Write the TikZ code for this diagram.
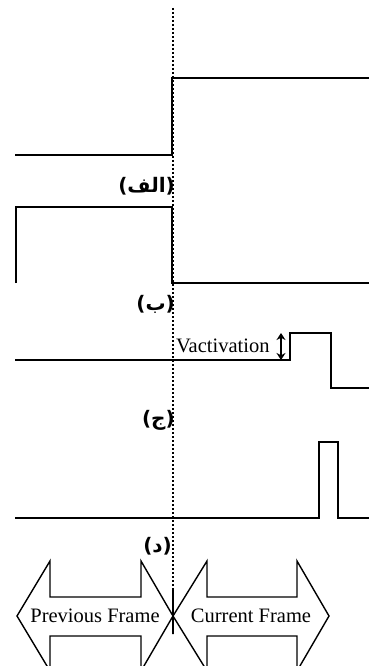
\documentclass[tikz,border=0pt]{standalone}
\usepackage{fontspec}
\setmainfont{Liberation Serif}
\newfontfamily\arabicfont[Script=Arabic]{DejaVu Sans}
\newfontfamily\parenfont{DejaVu Sans}
\TeXXeTstate=1
\usetikzlibrary{arrows.meta}
\newcommand{\arlabel}[1]{{\parenfont(}\beginR #1\endR{\parenfont)}}
\tikzset{
  signal/.style={line width=1.8pt, line join=miter},
  frameline/.style={line width=2.2pt, dash pattern=on 2.2pt off 1.8pt},
  bigarrow/.style={line width=1.4pt, line join=miter},
  caption/.style={inner sep=0pt, anchor=east, font=\arabicfont\bfseries\fontsize{20}{24}\selectfont},
  latin/.style={inner sep=0pt, font=\fontsize{20.5}{24}\selectfont}
}
\begin{document}
\begin{tikzpicture}[x=1pt,y=-1pt]
\useasboundingbox (0,0) rectangle (369,666);
\begin{scope}
\clip (0,0) rectangle (369,666);

% frame boundary
\coordinate (ftop) at (173,8);
\coordinate (fbot) at (173,634);
\draw[frameline] (ftop) -- (fbot);

% (a) step up at the frame boundary
\draw[signal] (15,155) -- (172,155) -- (172,78) -- (369,78);
\node[caption] (la) at (175,186) {\arlabel{الف}};

% (b) pulse ending at the frame boundary
\draw[signal] (16,283) -- (16,207) -- (172,207) -- (172,283) -- (369,283);
\node[caption] (lb) at (175,304) {\arlabel{ب}};

% (c) activation level then drop
\draw[signal] (15,360) -- (290,360) -- (290,333) -- (331,333) -- (331,388) -- (369,388);
\node[latin, anchor=west] (vact) at (176,346) {Vactivation};
\coordinate (vtop) at (281,333);
\coordinate (vbot) at (281,360);
\draw[line width=2pt, {Stealth[length=7pt,width=9pt]}-{Stealth[length=7pt,width=9pt]}] (vtop) -- (vbot);
\node[caption] (lc) at (175,420) {\arlabel{ج}};

% (d) narrow pulse
\draw[signal] (15,518) -- (319,518) -- (319,442) -- (338,442) -- (338,518) -- (369,518);
\node[caption] (ld) at (172,546) {\arlabel{د}};

% frame arrows
\draw[bigarrow, fill=white] (17,616) -- (50,561) -- (50,597) -- (141,597) -- (141,561) -- (173,616)
  -- (141,671) -- (141,636) -- (50,636) -- (50,671) -- cycle;
\draw[bigarrow, fill=white] (173,616) -- (207,561) -- (207,597) -- (297,597) -- (297,561) -- (329,616)
  -- (297,671) -- (297,636) -- (207,636) -- (207,671) -- cycle;
\draw[frameline] (173,590) -- (fbot);
\node[latin] (prev) at (95,616) {Previous Frame};
\node[latin] (curr) at (251,616) {Current Frame};
\end{scope}
\end{tikzpicture}
\end{document}
